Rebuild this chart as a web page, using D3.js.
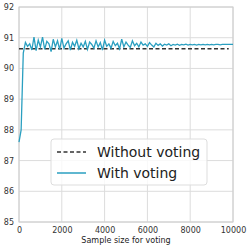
<!DOCTYPE html>
<html>
<head>
<meta charset="utf-8">
<script src="https://cdn.jsdelivr.net/npm/d3@7"></script>
<style>
  body { margin: 0; background: #fff; }
  text { font-family: "DejaVu Sans", sans-serif; }
</style>
</head>
<body>
<script>
// sample sizes 0..10000, step 100
var sampleSizes = d3.range(0, 10001, 100);
var withVoting = [
  87.6, 88.0, 90.5, 90.85, 90.72, 90.8, 90.6, 91.02, 90.58, 90.92,
  90.7, 91.02, 90.62, 90.88, 90.8, 90.55, 90.95, 90.7, 90.9, 90.62,
  90.98, 90.66, 90.8, 90.9, 90.6, 90.85, 90.72, 90.92, 90.64, 90.82,
  90.7, 90.88, 90.62, 90.86, 90.78, 90.66, 90.9, 90.7, 90.84, 90.6,
  90.92, 90.72, 90.8, 90.66, 90.88, 90.74, 90.82, 90.64, 90.95, 90.7,
  90.86, 90.76, 90.68, 90.9, 90.74, 90.82, 90.7, 90.86, 90.76, 90.8,
  90.72, 90.84, 90.76, 90.7, 90.82, 90.75, 90.8, 90.73, 90.79, 90.76,
  90.8, 90.74, 90.78, 90.76, 90.79, 90.75, 90.78, 90.77, 90.79, 90.76,
  90.78, 90.77, 90.78, 90.76, 90.78, 90.77, 90.78, 90.77, 90.78, 90.77,
  90.78, 90.77, 90.78, 90.78, 90.77, 90.78, 90.78, 90.78, 90.78, 90.78,
  90.78
];
var withoutVoting = 90.64;
var xTicks = [0, 2000, 4000, 6000, 8000, 10000];
var yTicks = [85, 86, 87, 88, 89, 90, 91, 92];
var seriesNames = ["Without voting", "With voting"];

window.onload = function(){
  var w = 249, h = 248;
  var mLeft = 19, mRight = 233, mTop = 7, mBottom = 222;

  var svg = d3.select("body").append("svg")
      .attr("width", w)
      .attr("height", h);

  var x = d3.scaleLinear().domain([0, 10000]).range([mLeft, mRight]);
  var y = d3.scaleLinear().domain([85, 92]).range([mBottom, mTop]);

  // grid
  svg.append("g").selectAll("line")
      .data(xTicks).enter().append("line")
      .attr("x1", function(d){ return x(d); })
      .attr("x2", function(d){ return x(d); })
      .attr("y1", mTop).attr("y2", mBottom)
      .style("stroke", "#dcdcdc").style("stroke-width", 1);
  svg.append("g").selectAll("line")
      .data(yTicks).enter().append("line")
      .attr("x1", mLeft).attr("x2", mRight)
      .attr("y1", function(d){ return y(d); })
      .attr("y2", function(d){ return y(d); })
      .style("stroke", "#dcdcdc").style("stroke-width", 1);

  // spines
  svg.append("rect")
      .attr("x", mLeft).attr("y", mTop)
      .attr("width", mRight - mLeft).attr("height", mBottom - mTop)
      .style("fill", "none").style("stroke", "#cccccc").style("stroke-width", 1);

  // axes
  var xAxis = d3.axisBottom(x).tickValues(xTicks).tickSize(0).tickPadding(5).tickFormat(d3.format("d"));
  var yAxis = d3.axisLeft(y).tickValues(yTicks).tickSize(0).tickPadding(5).tickFormat(d3.format("d"));
  var gx = svg.append("g").attr("transform", "translate(0," + mBottom + ")").call(xAxis);
  var gy = svg.append("g").attr("transform", "translate(" + mLeft + ",0)").call(yAxis);
  [gx, gy].forEach(function(g){
    g.select(".domain").remove();
    g.selectAll("text").style("font-size", "8px").style("fill", "#333")
      .style("font-family", "DejaVu Sans, sans-serif");
  });

  svg.append("text")
      .attr("x", (mLeft + mRight) / 2)
      .attr("y", 243)
      .attr("text-anchor", "middle")
      .style("font-size", "8px").style("fill", "#222")
      .text("Sample size for voting");

  // without voting (dashed)
  svg.append("line")
      .attr("x1", x(0)).attr("x2", x(9800))
      .attr("y1", y(withoutVoting)).attr("y2", y(withoutVoting))
      .style("stroke", "#333").style("stroke-width", 1.5)
      .style("stroke-dasharray", "4,2.5");

  // with voting
  var line = d3.line()
      .x(function(d, i){ return x(sampleSizes[i]); })
      .y(function(d){ return y(d); });
  svg.append("path")
      .datum(withVoting)
      .attr("d", line)
      .style("fill", "none")
      .style("stroke", "#2a9fc0")
      .style("stroke-width", 1.3);

  // legend
  var lg = svg.append("g");
  lg.append("rect")
      .attr("x", 51).attr("y", 139).attr("width", 156).attr("height", 46).attr("rx", 3)
      .style("fill", "rgba(255,255,255,0.8)").style("stroke", "#dddddd");
  var styles = [{dash: "4,2.5", color: "#333"}, {dash: null, color: "#2a9fc0"}];
  seriesNames.forEach(function(name, i){
    var yy = 152 + i * 21;
    lg.append("line")
      .attr("x1", 57).attr("x2", 86).attr("y1", yy).attr("y2", yy)
      .style("stroke", styles[i].color).style("stroke-width", 1.5)
      .style("stroke-dasharray", styles[i].dash);
    lg.append("text")
      .attr("x", 97).attr("y", yy + 5)
      .style("font-size", "14px").style("fill", "#222")
      .text(name);
  });
};
</script>
</body>
</html>
